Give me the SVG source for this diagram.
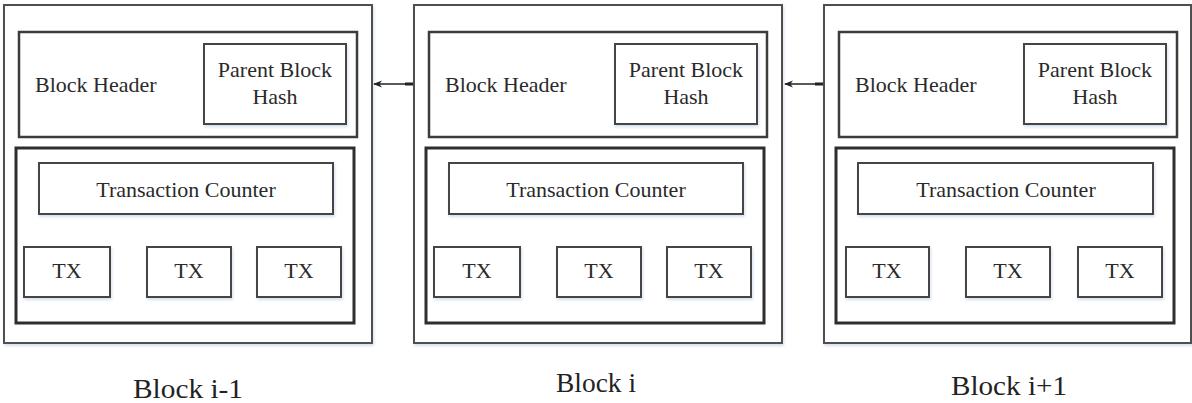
<svg xmlns="http://www.w3.org/2000/svg" width="1192" height="403" viewBox="0 0 1192 403">
<defs>
<style>
.t{font-family:"Liberation Serif","Times New Roman",serif;font-size:22px;fill:#2a2a2a}
.lbl{font-family:"Liberation Serif","Times New Roman",serif;font-size:27px;fill:#222;text-anchor:middle}
.c{text-anchor:middle}
.outer{fill:#fff;stroke:#505050;stroke-width:2}
.hdr{fill:#fff;stroke:#3c3c3c;stroke-width:2.5}
.body{fill:#fff;stroke:#2e2e2e;stroke-width:3}
.box{fill:#fff;stroke:#444;stroke-width:2;filter:url(#sh)}
.conn{stroke:#222;stroke-width:1.5;fill:none}
.stub{stroke:#222;stroke-width:3}
</style>
<filter id="sh" x="-10%" y="-10%" width="130%" height="140%">
<feDropShadow dx="1" dy="2" stdDeviation="1.5" flood-color="#9fb8dc" flood-opacity="0.45"/>
</filter>
<marker id="ah" viewBox="0 0 10 10" refX="9" refY="5" markerWidth="9" markerHeight="9" orient="auto" markerUnits="userSpaceOnUse">
<path d="M10,5 L0,1 L3,5 L0,9 Z" fill="#222"/>
</marker>
</defs>
<rect width="1192" height="403" fill="#fff"/>

<g id="block-i-minus-1">
<rect class="outer" x="4" y="5" width="368" height="338" filter="url(#sh)"/>
<rect class="hdr" x="19" y="32" width="338" height="105"/>
<text class="t" x="35" y="92">Block Header</text>
<rect class="box" x="204" y="44" width="142" height="80"/>
<text class="t c" x="275" y="77">Parent Block</text>
<text class="t c" x="275" y="104">Hash</text>
<rect class="body" x="16" y="148" width="338" height="175"/>
<rect class="box" x="39" y="163" width="294" height="51"/>
<text class="t c" x="186" y="197">Transaction Counter</text>
<rect class="box" x="24" y="247" width="86" height="50"/>
<text class="t c" x="67" y="278">TX</text>
<rect class="box" x="147" y="247" width="84" height="50"/>
<text class="t c" x="189" y="278">TX</text>
<rect class="box" x="257" y="247" width="84" height="50"/>
<text class="t c" x="299" y="278">TX</text>
<text class="lbl" x="188" y="398" textLength="110" lengthAdjust="spacingAndGlyphs">Block i-1</text>
</g>

<g id="block-i">
<rect class="outer" x="414" y="5" width="368" height="338" filter="url(#sh)"/>
<rect class="hdr" x="429" y="32" width="338" height="105"/>
<text class="t" x="445" y="92">Block Header</text>
<rect class="box" x="615" y="44" width="142" height="80"/>
<text class="t c" x="686" y="77">Parent Block</text>
<text class="t c" x="686" y="104">Hash</text>
<rect class="body" x="426" y="148" width="338" height="175"/>
<rect class="box" x="449" y="163" width="294" height="51"/>
<text class="t c" x="596" y="197">Transaction Counter</text>
<rect class="box" x="434" y="247" width="86" height="50"/>
<text class="t c" x="477" y="278">TX</text>
<rect class="box" x="557" y="247" width="84" height="50"/>
<text class="t c" x="599" y="278">TX</text>
<rect class="box" x="667" y="247" width="84" height="50"/>
<text class="t c" x="709" y="278">TX</text>
<text class="lbl" x="596" y="392" textLength="80" lengthAdjust="spacingAndGlyphs">Block i</text>
</g>

<g id="block-i-plus-1">
<rect class="outer" x="824" y="5" width="367" height="338" filter="url(#sh)"/>
<rect class="hdr" x="839" y="32" width="338" height="105"/>
<text class="t" x="855" y="92">Block Header</text>
<rect class="box" x="1024" y="44" width="142" height="80"/>
<text class="t c" x="1095" y="77">Parent Block</text>
<text class="t c" x="1095" y="104">Hash</text>
<rect class="body" x="836" y="148" width="338" height="175"/>
<rect class="box" x="858" y="163" width="295" height="51"/>
<text class="t c" x="1006" y="197">Transaction Counter</text>
<rect class="box" x="846" y="247" width="83" height="50"/>
<text class="t c" x="887" y="278">TX</text>
<rect class="box" x="966" y="247" width="84" height="50"/>
<text class="t c" x="1008" y="278">TX</text>
<rect class="box" x="1078" y="247" width="84" height="50"/>
<text class="t c" x="1120" y="278">TX</text>
<text class="lbl" x="1009" y="395" textLength="116" lengthAdjust="spacingAndGlyphs">Block i+1</text>
</g>

<g id="connectors">
<line class="conn" x1="413" y1="84" x2="374" y2="84" marker-end="url(#ah)"/>
<line class="stub" x1="405" y1="84" x2="413" y2="84"/>
<line class="conn" x1="823" y1="84" x2="785" y2="84" marker-end="url(#ah)"/>
<line class="stub" x1="815" y1="84" x2="823" y2="84"/>
</g>
</svg>
